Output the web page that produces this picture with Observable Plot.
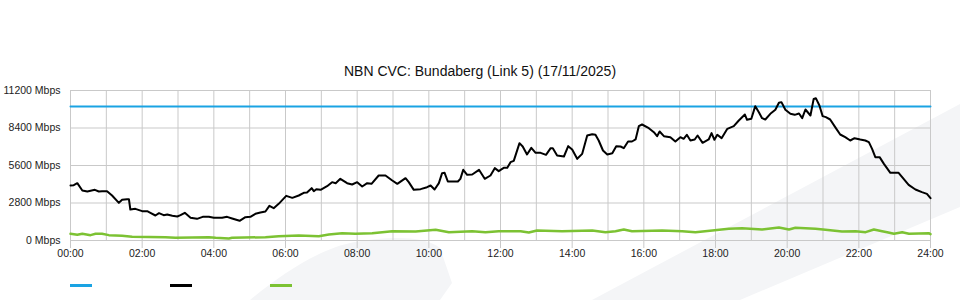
<!DOCTYPE html>
<html>
<head>
<meta charset="utf-8">
<script src="https://cdn.jsdelivr.net/npm/d3@7"></script>
<script src="https://cdn.jsdelivr.net/npm/@observablehq/plot@0.6"></script>
<style>
  html, body { margin: 0; padding: 0; background: #fff; }
  body { font-family: "Liberation Sans", Arial, sans-serif; }
  #wrap { position: relative; width: 960px; height: 300px; overflow: hidden; }
  #bg { position: absolute; left: 0; top: 0; z-index: 0; }
  #chart { position: absolute; left: 0; top: 0; z-index: 1; }
  #title { position: absolute; left: 0; top: 62px; width: 960px; text-align: center;
           font-size: 14px; color: #111; z-index: 2; line-height: 18px; }
  #legend { position: absolute; left: 0; top: 284px; width: 960px; height: 4px; z-index: 2; }
  #legend span { position: absolute; top: 0; width: 22px; height: 2.5px; }
</style>
</head>
<body>
<div id="wrap">
  <svg id="bg" width="960" height="300">
    <path d="M250,300 C280,275 320,248 355,242 C390,236 425,236 440,248 L452,283 L440,300 Z" fill="#f4f5f7"/>
    <path d="M592,300 L960,104 L960,207 L740,300 Z" fill="#f4f5f7"/>
  </svg>
  <div id="chart"></div>
  <div id="title"></div>
  <div id="legend"></div>
</div>
<script>
const titleText = "NBN CVC: Bundaberg (Link 5) (17/11/2025)";
const yTicks = [0, 2800, 5600, 8400, 11200];
const xTicks = [0, 2, 4, 6, 8, 10, 12, 14, 16, 18, 20, 22, 24];
const hourGrid = d3.range(0, 25);

const capacityHours = [0, 24];
const capacityMbps = [10000, 10000];

const trafficHours = [0.00,0.09,0.19,0.33,0.47,0.68,0.79,0.88,1.02,1.16,1.35,1.44,1.58,1.63,1.67,1.81,2.00,2.14,2.23,2.37,2.47,2.60,2.70,2.84,2.98,3.07,3.19,3.35,3.53,3.69,3.86,4.00,4.23,4.37,4.51,4.72,4.88,5.02,5.16,5.30,5.44,5.55,5.67,5.81,6.02,6.19,6.37,6.51,6.60,6.73,6.79,6.86,6.98,7.16,7.30,7.40,7.53,7.72,7.86,8.00,8.14,8.28,8.40,8.60,8.79,8.98,9.12,9.35,9.44,9.58,9.77,9.95,10.05,10.16,10.28,10.37,10.44,10.53,10.81,10.88,10.96,11.07,11.21,11.40,11.56,11.72,11.84,11.95,12.09,12.19,12.28,12.37,12.53,12.62,12.74,12.86,12.98,13.12,13.27,13.40,13.46,13.58,13.77,13.89,14.00,14.14,14.28,14.42,14.56,14.65,14.74,14.86,14.98,15.12,15.23,15.35,15.44,15.56,15.67,15.77,15.86,15.95,16.14,16.28,16.37,16.44,16.56,16.74,16.88,17.02,17.11,17.20,17.30,17.42,17.50,17.64,17.81,17.89,17.97,18.05,18.17,18.33,18.51,18.65,18.82,18.88,19.00,19.11,19.21,19.30,19.39,19.53,19.67,19.77,19.84,19.95,20.09,20.21,20.33,20.42,20.51,20.65,20.74,20.80,20.90,20.99,21.08,21.20,21.34,21.48,21.62,21.76,21.88,22.04,22.18,22.28,22.37,22.46,22.58,22.70,22.88,23.02,23.11,23.25,23.39,23.58,23.76,23.90,24.00];
const trafficMbps = [4107,4130,4281,3734,3659,3783,3659,3684,3684,3360,2813,3037,3086,3086,2315,2365,2190,2190,2066,1867,2041,1892,1941,1842,1792,1892,2066,1693,1618,1767,1767,1693,1693,1767,1643,1469,1742,1767,1991,2091,2165,2589,2414,2738,3335,3186,3360,3559,3580,3908,3684,3833,3783,4057,4356,4281,4605,4281,4181,4356,4032,4281,4231,4854,4854,4480,4231,4654,4356,3783,3833,3982,4107,3808,4281,5028,5053,4405,4405,4605,5277,4903,4928,5277,4605,4854,5401,5177,5426,5426,5849,5949,7268,7019,6422,6919,6546,6546,6397,6894,6894,6347,6272,7044,6795,6098,6471,7840,7940,7890,7467,6720,6422,6521,7044,7019,6894,7392,7392,7542,8537,8661,8388,8089,7790,8139,7790,7716,7392,7716,7591,7890,7467,7542,7840,7293,7542,8015,7517,7890,7641,8338,8537,8960,9408,9010,9085,10030,9582,9135,9035,9458,9757,10280,10330,9757,9458,9383,9483,9135,9782,9334,10578,10628,10081,9284,9209,9035,8463,7915,7716,7467,7641,7542,7467,7343,6845,6223,6223,5724,5053,5053,5053,4605,4157,3808,3609,3485,3161];

const otherHours = [0,0.19,0.33,0.56,0.70,0.88,1.07,1.44,1.72,2.65,2.93,3.86,4.05,4.42,4.51,5.44,5.81,6.37,6.93,7.21,7.58,7.95,8.42,8.98,9.63,10.19,10.56,11.21,11.58,11.95,12.56,12.79,13.02,13.72,14.56,14.93,15.21,15.44,15.67,16.51,17.07,17.44,17.91,18.37,18.74,19.30,19.77,20.05,20.23,20.79,21.07,21.53,21.91,22.19,22.42,22.65,22.79,22.98,23.21,23.40,23.95,24.00];
const otherMbps = [498,423,498,400,498,498,400,348,274,249,199,249,199,149,199,249,324,373,324,448,548,498,548,697,672,796,622,697,622,697,697,597,747,697,747,622,697,821,697,747,697,622,747,871,921,821,971,821,946,871,796,672,697,622,821,697,622,498,622,498,548,473];

const seriesColors = ["#1aa3e3", "#000000", "#7cc233"];

const toRows = (hs, vs) => hs.map((h, i) => ({h, v: vs[i]}));
const capacity = toRows(capacityHours, capacityMbps);
const traffic = toRows(trafficHours, trafficMbps);
const other = toRows(otherHours, otherMbps);

const gridColor = "#c9c9c9";
const fmtHour = d => String(d).padStart(2, "0") + ":00";

const chart = Plot.plot({
  width: 960,
  height: 260,
  marginLeft: 70,
  marginRight: 30,
  marginTop: 90,
  marginBottom: 20,
  style: {background: "transparent", fontFamily: "'Liberation Sans', Arial, sans-serif", fontSize: "10.5px", color: "#222"},
  x: {domain: [0, 24], label: null},
  y: {domain: [0, 11200], label: null},
  marks: [
    Plot.ruleX(hourGrid, {stroke: gridColor, strokeWidth: 1}),
    Plot.ruleY(yTicks, {stroke: gridColor, strokeWidth: 1}),
    Plot.axisX(xTicks, {tickSize: 8, tickPadding: 1, stroke: gridColor, tickFormat: fmtHour, fontSize: "10.5px", label: null}),
    Plot.axisY(yTicks, {tickSize: 0, tickPadding: 10, tickFormat: d => d + " Mbps", fontSize: "10.5px", label: null}),
    Plot.line(other, {x: "h", y: "v", stroke: seriesColors[2], strokeWidth: 2.5}),
    Plot.line(capacity, {x: "h", y: "v", stroke: seriesColors[0], strokeWidth: 2}),
    Plot.line(traffic, {x: "h", y: "v", stroke: seriesColors[1], strokeWidth: 2})
  ]
});
document.getElementById("chart").appendChild(chart);
document.getElementById("title").textContent = titleText;

const legend = document.getElementById("legend");
seriesColors.forEach((c, i) => {
  const s = document.createElement("span");
  s.style.left = (70 + i * 100) + "px";
  s.style.background = c;
  legend.appendChild(s);
});
</script>
</body>
</html>
